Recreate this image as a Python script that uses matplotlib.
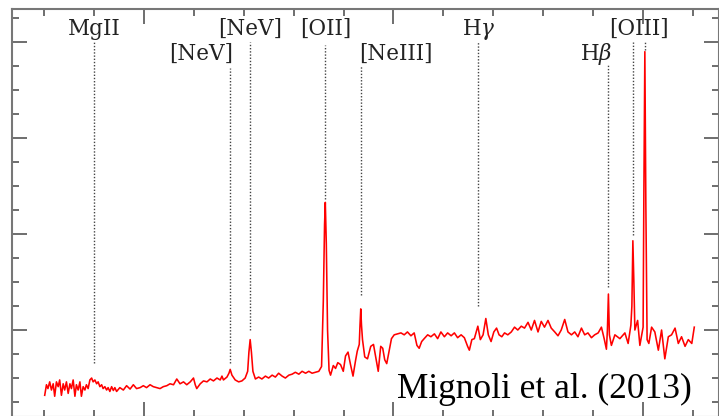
import numpy as np
import matplotlib.pyplot as plt
from matplotlib.ticker import MultipleLocator

plt.rcParams['mathtext.fontset'] = 'dejavuserif'

# rest-frame spectrum (wavelength in Angstrom, flux in arbitrary units)
wave = [
    2603, 2610, 2616, 2623, 2630, 2637, 2643, 2650, 2657, 2663,
    2670, 2677, 2683, 2690, 2697, 2704, 2710, 2717, 2724, 2730,
    2737, 2744, 2750, 2757, 2764, 2770, 2777, 2784, 2791, 2797,
    2804, 2811, 2817, 2824, 2831, 2837, 2844, 2851, 2857, 2864,
    2871, 2878, 2884, 2891, 2904, 2918, 2931, 2945, 2958, 2971,
    2985, 2998, 3011, 3025, 3038, 3052, 3065, 3078, 3092, 3105,
    3119, 3132, 3145, 3159, 3172, 3186, 3199, 3206, 3212, 3226,
    3239, 3253, 3266, 3279, 3293, 3306, 3313, 3319, 3333, 3341,
    3346, 3353, 3366, 3380, 3393, 3406, 3416, 3421, 3426, 3431,
    3437, 3447, 3460, 3473, 3487, 3500, 3514, 3527, 3540, 3554,
    3567, 3581, 3594, 3607, 3621, 3634, 3648, 3661, 3674, 3688,
    3701, 3712, 3719, 3724, 3727, 3731, 3736, 3742, 3748, 3759,
    3768, 3777, 3788, 3799, 3808, 3818, 3828, 3838, 3848, 3855,
    3863, 3866, 3869, 3872, 3876, 3885, 3896, 3909, 3920, 3929,
    3939, 3949, 3957, 3965, 3973, 3983, 3992, 4003, 4016, 4030,
    4043, 4056, 4070, 4083, 4094, 4103, 4113, 4123, 4137, 4150,
    4164, 4177, 4190, 4204, 4217, 4231, 4244, 4257, 4271, 4284,
    4297, 4304, 4314, 4324, 4338, 4348, 4359, 4370, 4380, 4391,
    4402, 4413, 4423, 4434, 4445, 4458, 4472, 4485, 4498, 4512,
    4525, 4539, 4552, 4565, 4579, 4592, 4605, 4619, 4632, 4646,
    4659, 4672, 4686, 4699, 4713, 4726, 4739, 4753, 4766, 4779,
    4793, 4806, 4820, 4833, 4844, 4853, 4857, 4861, 4865, 4873,
    4887, 4907, 4927, 4940, 4951, 4955, 4959, 4963, 4967, 4978,
    4987, 5000, 5003, 5007, 5011, 5016, 5023, 5034, 5047, 5061,
    5074, 5087, 5101, 5114, 5128, 5141, 5154, 5168, 5181, 5195,
    5205,
]
flux = [
    0.32, 0.43, 0.39, 0.46, 0.375, 0.44, 0.31, 0.46, 0.41, 0.48,
    0.32, 0.44, 0.375, 0.46, 0.34, 0.44, 0.39, 0.48, 0.31, 0.43,
    0.375, 0.46, 0.31, 0.41, 0.375, 0.43, 0.39, 0.48, 0.50, 0.46,
    0.48, 0.44, 0.46, 0.41, 0.43, 0.39, 0.41, 0.375, 0.40, 0.36,
    0.41, 0.37, 0.40, 0.36, 0.40, 0.375, 0.42, 0.385, 0.43, 0.39,
    0.40, 0.42, 0.40, 0.43, 0.41, 0.40, 0.39, 0.41, 0.42, 0.44,
    0.43, 0.49, 0.44, 0.46, 0.43, 0.46, 0.50, 0.43, 0.39, 0.44,
    0.47, 0.46, 0.49, 0.47, 0.50, 0.48, 0.52, 0.48, 0.51, 0.55,
    0.59, 0.53, 0.48, 0.46, 0.47, 0.50, 0.57, 0.77, 0.90, 0.77,
    0.57, 0.49, 0.51, 0.49, 0.52, 0.50, 0.53, 0.51, 0.55, 0.52,
    0.50, 0.53, 0.54, 0.56, 0.54, 0.57, 0.55, 0.57, 0.55, 0.56,
    0.57, 0.62, 1.30, 2.10, 2.33, 1.90, 1.00, 0.58, 0.53, 0.63,
    0.60, 0.66, 0.64, 0.57, 0.73, 0.77, 0.64, 0.52, 0.68, 0.78,
    0.85, 1.05, 1.22, 1.05, 0.90, 0.72, 0.70, 0.83, 0.85, 0.72,
    0.57, 0.83, 0.81, 0.69, 0.65, 0.79, 0.91, 0.95, 0.96, 0.97,
    0.95, 0.98, 0.94, 0.97, 0.84, 0.81, 0.88, 0.91, 0.95, 0.93,
    0.96, 0.91, 0.98, 0.93, 0.97, 0.94, 0.97, 0.92, 0.95, 0.92,
    0.83, 0.79, 0.90, 0.91, 1.04, 0.90, 0.95, 1.12, 0.95, 0.88,
    0.98, 1.02, 0.95, 0.93, 0.97, 0.95, 0.98, 1.03, 1.00, 1.04,
    1.02, 1.08, 1.00, 1.10, 0.98, 1.09, 1.03, 1.10, 1.02, 0.98,
    0.94, 1.00, 1.11, 0.98, 0.95, 0.98, 0.93, 1.02, 0.95, 0.97,
    0.92, 0.95, 0.97, 1.03, 0.91, 0.80, 1.00, 1.375, 0.95, 0.84,
    0.95, 0.91, 0.97, 0.86, 1.05, 1.25, 1.93, 1.50, 1.00, 1.10,
    0.84, 1.03, 2.40, 3.90, 2.30, 0.90, 0.86, 1.03, 0.98, 0.79,
    1.00, 0.70, 0.93, 0.95, 1.02, 0.86, 0.93, 0.83, 0.90, 0.86,
    1.03,
]

# emission line markers
line_wave = [2800, 3346, 3426, 3727, 3869, 4340, 4861, 4959, 5007]
line_top = [4.00, 3.73, 4.00, 3.97, 3.75, 4.00, 3.76, 4.00, 4.00]
line_bottom = [0.66, 0.66, 1.00, 2.36, 1.36, 1.25, 1.45, 1.99, 3.92]

# line labels: text, x position, row baseline, alignment
label_text = ['MgII', '[NeV]', '[NeV]', '[OII]', '[NeIII]',
              r'H$\gamma$', r'H$\beta$', '[OIII]']
label_x = [2800, 3358, 3426, 3727, 3863, 4340, 4877, 4983]
label_y = [4.07, 3.81, 4.07, 4.07, 3.81, 4.07, 3.81, 4.07]
label_ha = ['center', 'right', 'center', 'center', 'left',
            'center', 'right', 'center']

fig = plt.figure(figsize=(7.19, 4.16), dpi=100)
ax = fig.add_axes([12 / 719, -1 / 416, 706.5 / 719, 408 / 416])

ax.plot(wave, flux, color='red', lw=1.15)

for w, top, bot in zip(line_wave, line_top, line_bottom):
    ax.plot([w, w], [bot, top], color='#444444', lw=1.0,
            linestyle=(0, (1, 1.3)))

for t, x, y, ha in zip(label_text, label_x, label_y, label_ha):
    ax.text(x, y, t, ha=ha, va='baseline', fontsize=15.5,
            family='DejaVu Serif', color='#222222')

ax.text(0.9625, 0.047, 'Mignoli et al. (2013)', transform=ax.transAxes,
        ha='right', va='baseline', fontsize=25.5, family='Liberation Serif',
        color='black')

ax.set_xlim(2472, 5302)
ax.set_ylim(0.094, 4.344)

ax.xaxis.set_major_locator(MultipleLocator(1000))
ax.xaxis.set_minor_locator(MultipleLocator(200))
ax.yaxis.set_major_locator(MultipleLocator(1))
ax.yaxis.set_minor_locator(MultipleLocator(0.25))
ax.tick_params(which='both', direction='in', top=True, right=True,
               labelbottom=False, labelleft=False, color='#555555', width=1.2)
ax.tick_params(which='major', length=10.5)
ax.tick_params(which='minor', length=5)
for sp in ax.spines.values():
    sp.set_color('#777777')
    sp.set_linewidth(1.5)

fig.savefig('out.png', dpi=100)
